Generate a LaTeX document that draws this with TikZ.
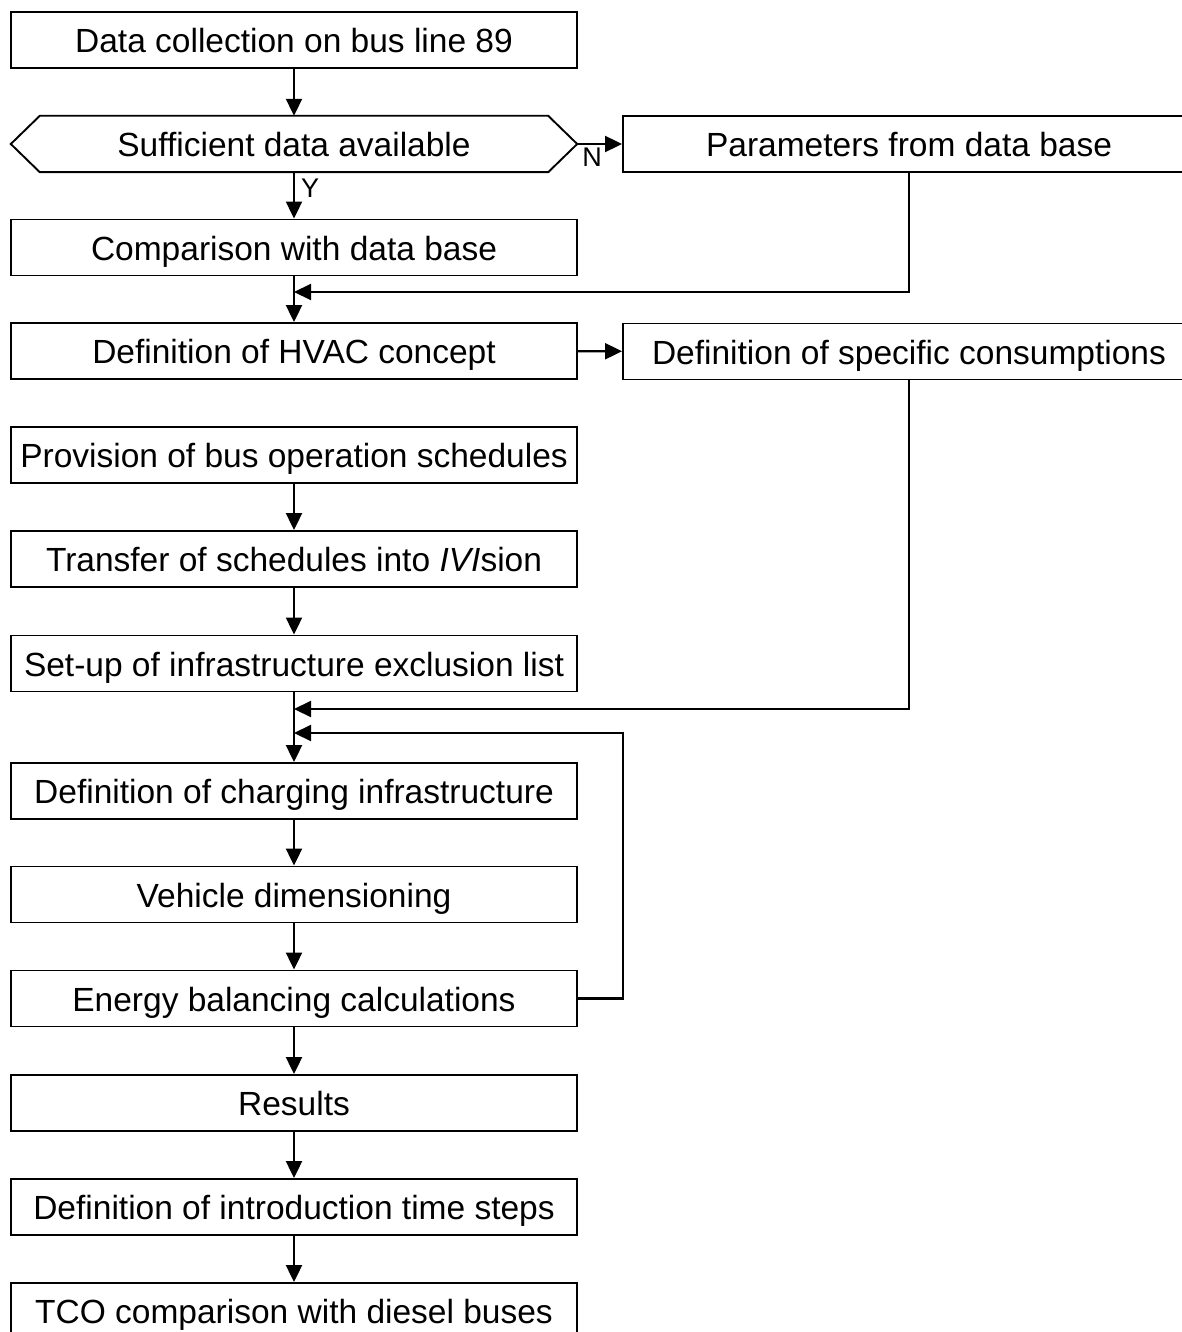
\documentclass[tikz,border=0pt]{standalone}
\usepackage{fontspec}
\setmainfont{Liberation Sans}
\usetikzlibrary{arrows.meta}
\begin{document}
\begin{tikzpicture}[x=1pt,y=-1pt,
 txt/.style={minimum width=566pt, minimum height=56pt, inner sep=0pt, text height=25pt, text depth=0pt, font=\fontsize{33.5}{36}\selectfont},
 box/.style={txt, draw, line width=1.9pt},
 rbox/.style={box, minimum width=572pt},
 conn/.style={line width=2.1pt, -{Triangle[length=17pt,width=16pt]}},
 plain/.style={line width=1.9pt},
 lab/.style={font=\fontsize{27}{29}\selectfont, inner sep=2pt}]
\useasboundingbox (0,0) rectangle (1182,1332);
\clip (0,0) rectangle (1182,1332);
\node[box] (n1) at (294,40) {Data collection on bus line 89};
\node[txt] (hex) at (294,144) {Sufficient data available};
\draw[plain] (hex.west) -- ([xshift=29pt]hex.north west) -- ([xshift=-29pt]hex.north east) -- (hex.east) -- ([xshift=-29pt]hex.south east) -- ([xshift=29pt]hex.south west) -- cycle;
\node[box] (n3) at (294,247.5) {Comparison with data base};
\node[box] (n4) at (294,351) {Definition of HVAC concept};
\node[box] (n5) at (294,455) {Provision of bus operation schedules};
\node[box] (n6) at (294,559) {Transfer of schedules into \textit{IVI}sion};
\node[box] (n7) at (294,663.5) {Set-up of infrastructure exclusion list};
\node[box] (n8) at (294,791) {Definition of charging infrastructure};
\node[box] (n9) at (294,894.5) {Vehicle dimensioning};
\node[box] (n10) at (294,998.5) {Energy balancing calculations};
\node[box] (n11) at (294,1103) {Results};
\node[box] (n12) at (294,1207) {Definition of introduction time steps};
\node[box] (n13) at (294,1311) {TCO comparison with diesel buses};
\node[rbox] (p) at (909,144) {Parameters from data base};
\node[rbox] (s) at (909,351.5) {Definition of specific consumptions};
\coordinate (j1) at (294,292);
\coordinate (j2) at (294,709);
\coordinate (j3) at (294,733);
\coordinate (fb) at (623,733);
\draw[conn] (n1) -- (hex);
\draw[conn] (hex) -- node[lab, right, pos=0.35, xshift=4pt] {Y} (n3);
\draw[conn] (hex.east) -- node[lab, below, pos=0.33, yshift=-1pt] {N} (p.west);
\draw[conn] (n3) -- (n4);
\draw[conn] (p.south) |- (j1);
\draw[conn] (n4) -- (s);
\draw[conn] (n5) -- (n6);
\draw[conn] (n6) -- (n7);
\draw[conn] (s.south) |- (j2);
\draw[conn] (n10.east) -| (fb) -- (j3);
\draw[conn] (n7) -- (n8);
\draw[conn] (n8) -- (n9);
\draw[conn] (n9) -- (n10);
\draw[conn] (n10) -- (n11);
\draw[conn] (n11) -- (n12);
\draw[conn] (n12) -- (n13);
\end{tikzpicture}
\end{document}
